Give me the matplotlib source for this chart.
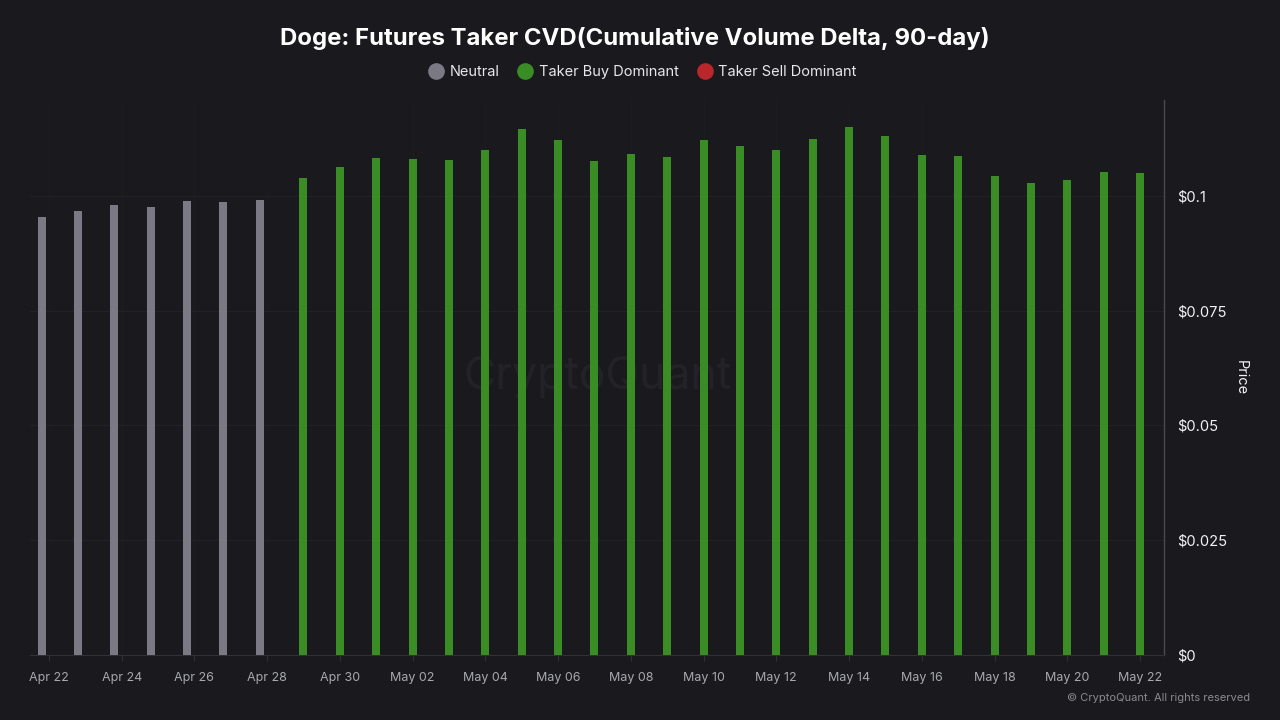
import matplotlib
matplotlib.use("Agg")
import matplotlib.pyplot as plt
import matplotlib.dates as mdates
from matplotlib.lines import Line2D
import pandas as pd
import numpy as np

# ---- data ----
neutral_dates = pd.date_range("2024-04-22", "2024-04-28", freq="D")
neutral_values = [0.0954, 0.0967, 0.0980, 0.0977, 0.0988, 0.0986, 0.0991]

buy_dates = pd.date_range("2024-04-29", "2024-05-22", freq="D")
buy_values = [0.1039, 0.1062, 0.1082, 0.1081, 0.1078, 0.1099, 0.1145, 0.1121,
              0.1076, 0.1092, 0.1084, 0.1121, 0.1109, 0.1100, 0.1123, 0.1151,
              0.1130, 0.1090, 0.1086, 0.1044, 0.1028, 0.1034, 0.1053, 0.1049]

sell_dates = []
sell_values = []

y_ticks = [0, 0.025, 0.05, 0.075, 0.1]
y_tick_labels = ["$0", "$0.025", "$0.05", "$0.075", "$0.1"]
x_tick_dates = pd.date_range("2024-04-22", "2024-05-22", freq="2D")
x_tick_labels = [d.strftime("%b %d") for d in x_tick_dates]

title = "Doge: Futures Taker CVD(Cumulative Volume Delta, 90-day)"
legend_labels = ["Neutral", "Taker Buy Dominant", "Taker Sell Dominant"]

# ---- style ----
BG = "#19191e"
C_NEUTRAL = "#7b7a84"
C_BUY = "#3a8d24"
C_SELL = "#b9262b"
FONT = ["Inter", "DejaVu Sans"]
plt.rcParams["font.family"] = FONT

fig = plt.figure(figsize=(12.8, 7.2), dpi=100, facecolor=BG)
ax = fig.add_axes([30 / 1280, 65 / 720, (1164 - 30) / 1280, (655 - 100) / 720])
ax.set_facecolor(BG)

bar_w = 0.22
neutral_x = mdates.date2num(neutral_dates) - 0.2
ax.bar(neutral_x, neutral_values, width=bar_w, color=C_NEUTRAL, zorder=3)
ax.bar(mdates.date2num(buy_dates), buy_values, width=bar_w, color=C_BUY, zorder=3)
if sell_dates:
    ax.bar(mdates.date2num(pd.to_datetime(sell_dates)), sell_values, width=bar_w, color=C_SELL, zorder=3)

x0 = mdates.date2num(pd.Timestamp("2024-04-22"))
ax.set_xlim(x0 - 0.52, x0 + 30.66)
ax.set_ylim(0, 0.1209)

ax.yaxis.tick_right()
ax.set_yticks(y_ticks)
ax.set_yticklabels(y_tick_labels)
ax.tick_params(axis="y", length=0, pad=9.5, labelsize=10.6, labelcolor="#f2f2f4")
ax.set_xticks(mdates.date2num(x_tick_dates))
ax.set_xticklabels(x_tick_labels)
ax.tick_params(axis="x", length=4, width=0.8, color="#303037", pad=8, labelsize=9.0, labelcolor="#a8a8b0")

for s in ["top", "left"]:
    ax.spines[s].set_visible(False)
ax.spines["bottom"].set_color("#303037")
ax.spines["bottom"].set_linewidth(0.8)
ax.spines["right"].set_color("#4a4a52")
ax.spines["right"].set_linewidth(1.0)

ax.grid(axis="y", color="#212127", linewidth=0.8, zorder=0)
ax.grid(axis="x", color="#1c1c21", linewidth=0.8, zorder=0)

ax.yaxis.set_label_position("right")
ax.set_ylabel("Price", rotation=-90, color="#f2f2f4", fontsize=10.5, va="center", ha="center")
ax.yaxis.set_label_coords((1241 - 30) / 1134, (655 - 378) / 555)

# watermark
ax.text(0.5, 0.5, "CryptoQuant", transform=ax.transAxes, ha="center", va="center",
        fontsize=32, color="#222228", zorder=1)

fig.text(0.496, 1 - 39 / 720, title, ha="center", va="center", color="white",
         fontsize=17.2, fontweight="bold")

handles = [Line2D([], [], marker="o", linestyle="none", markersize=11, color=c)
           for c in (C_NEUTRAL, C_BUY, C_SELL)]
fig.legend(handles, legend_labels, loc="center", bbox_to_anchor=(0.502, 1 - 72 / 720), ncol=3,
           frameon=False, fontsize=10.5, labelcolor="#e8e8ec", handletextpad=0.4,
           columnspacing=1.3, handlelength=1.0)

fig.text(1250 / 1280, 1 - 698 / 720, "© CryptoQuant. All rights reserved", ha="right", va="center",
         color="#8a8a92", fontsize=8)

fig.savefig("out.png", dpi=100, facecolor=BG)
